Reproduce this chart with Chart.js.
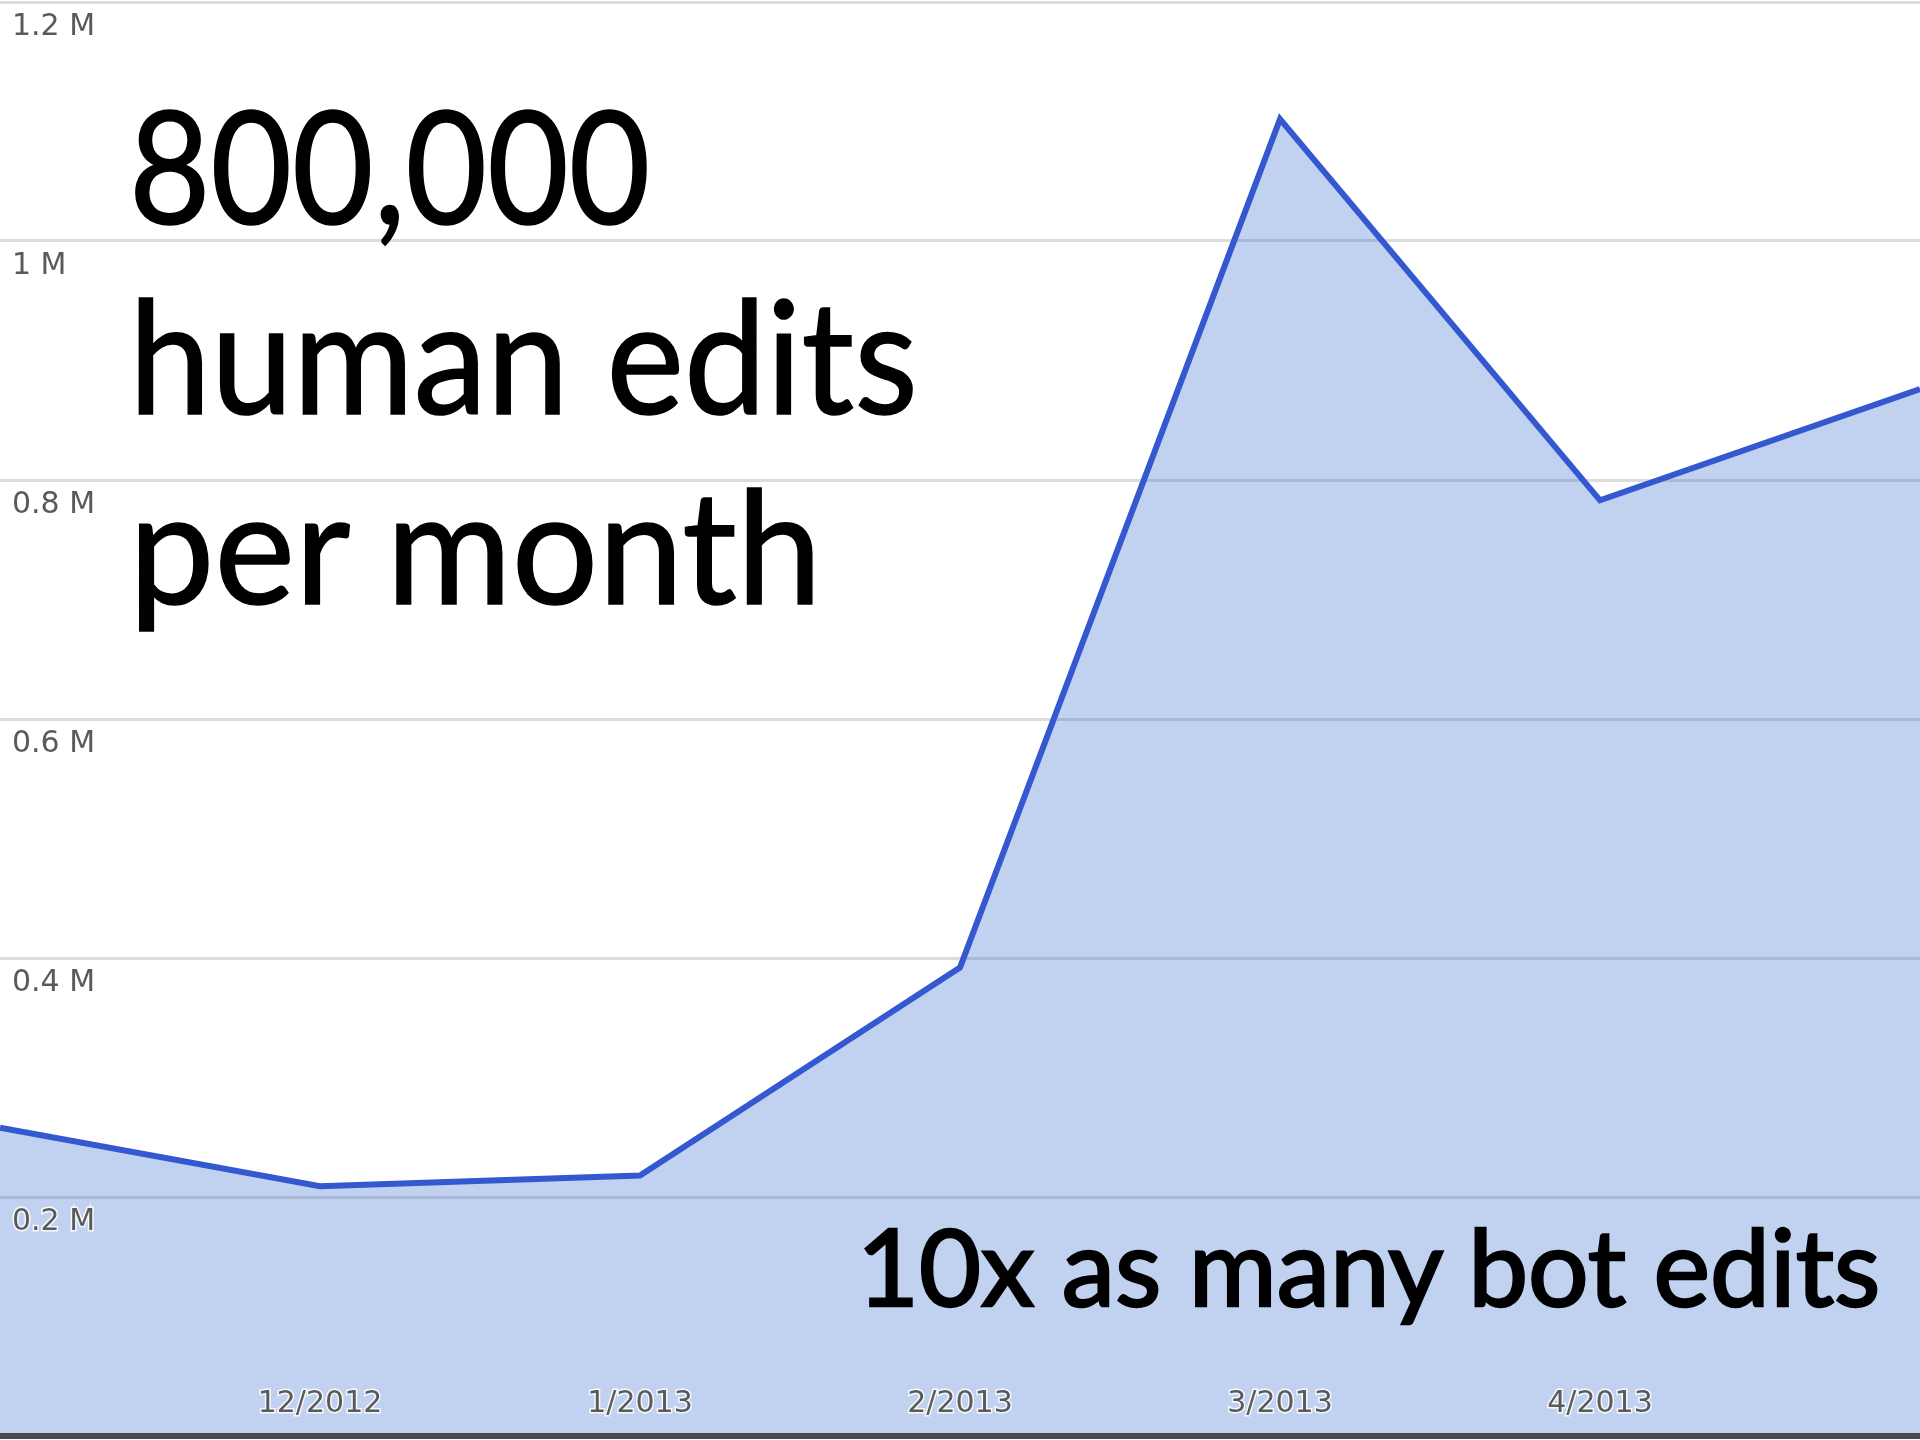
<head>
  <script src="https://cdn.jsdelivr.net/npm/chart.js"></script>
  <style>
    body {
      margin: 0;
      background-color: #ffffff;
    }

    #wrap {
      position: relative;
      width: 1920px;
      height: 1440px;
      overflow: hidden;
    }

    .note {
      position: absolute;
      font-family: Lato, sans-serif;
      color: #000000;
      line-height: 1;
      white-space: nowrap;
      transform-origin: left top;
      -webkit-text-stroke: 1.5px #000000;
    }

    #big { left: 129px; top: 84px; font-size: 158px; transform: scaleX(0.89); }
    #l2 { left: 129px; top: 274px; font-size: 158px; transform: scaleX(0.93); }
    #l3 { left: 129px; top: 464px; font-size: 158px; transform: scaleX(0.965); }
    #bot { left: 857px; top: 1211px; font-size: 107px; transform: scaleX(1.0); -webkit-text-stroke: 2.5px #000000; }
  </style>
</head>
<div id="wrap">
  <canvas id="myChart"></canvas>
  <div class="note" id="big">800,000</div>
  <div class="note" id="l2">human edits</div>
  <div class="note" id="l3">per month</div>
  <div class="note" id="bot">10x as many bot edits</div>
</div>

<script>
  // months on the x axis, first and last are not labelled in the picture
  const months = ['11/2012', '12/2012', '1/2013', '2/2013', '3/2013', '4/2013', '5/2013'];
  const monthLabels = ['', '12/2012', '1/2013', '2/2013', '3/2013', '4/2013', ''];

  // human edits per month
  const humanEdits = [258000, 209000, 218000, 392000, 1102000, 783000, 876000];

  const yTickLabels = ['', '0.2 M', '0.4 M', '0.6 M', '0.8 M', '1 M', '1.2 M'];

  var data = {
    labels: months,
    datasets: [{
      label: 'Human edits',
      data: humanEdits,
      borderColor: '#3358cf',
      backgroundColor: 'rgba(51,102,204,0.3)',
      borderWidth: 6,
      fill: 'origin',
      tension: 0,
      pointRadius: 0
    }]
  };

  // x labels sit inside the plot, just above the bottom axis line
  var monthLabelPlugin = {
    id: 'monthLabels',
    afterDatasetsDraw: function (chart) {
      var ctx = chart.ctx;
      var xScale = chart.scales.x;
      var y = chart.chartArea.bottom - 32;
      ctx.save();
      ctx.font = '30px "DejaVu Sans"';
      ctx.textAlign = 'center';
      ctx.textBaseline = 'middle';
      ctx.lineWidth = 3;
      ctx.strokeStyle = 'rgba(255,255,255,0.85)';
      ctx.fillStyle = '#5a5a5a';
      monthLabels.forEach(function (label, i) {
        if (!label) return;
        var x = xScale.getPixelForValue(i);
        ctx.strokeText(label, x, y);
        ctx.fillText(label, x, y);
      });
      ctx.restore();
    }
  };

  var config = {
    type: 'line',
    data: data,
    plugins: [monthLabelPlugin],
    options: {
      responsive: true,
      maintainAspectRatio: false,
      animation: false,
      layout: {
        padding: { top: 2, bottom: 4, left: 0, right: 0 }
      },
      plugins: {
        legend: { display: false },
        tooltip: { enabled: false }
      },
      scales: {
        x: {
          grid: { display: false, drawTicks: false },
          border: { display: true, color: '#4a4a4a', width: 6, z: 1 },
          ticks: { display: false },
          afterFit: function (scale) {
            scale.height = 0;
            scale.paddingLeft = 0;
            scale.paddingRight = 0;
          }
        },
        y: {
          min: 0,
          max: 1200000,
          grid: { color: '#dcdcdc', lineWidth: 3, drawTicks: false },
          border: { display: false },
          ticks: {
            stepSize: 200000,
            mirror: true,
            padding: 12,
            labelOffset: 25,
            z: 1,
            color: '#5a5a5a',
            textStrokeColor: 'rgba(255,255,255,0.85)',
            textStrokeWidth: 3,
            font: { family: 'DejaVu Sans', size: 30 },
            callback: function (value, index) {
              return yTickLabels[index];
            }
          },
          afterFit: function (scale) {
            scale.width = 0;
            scale.paddingTop = 0;
            scale.paddingBottom = 0;
          }
        }
      }
    }
  };

  myChart = new Chart(
    document.getElementById('myChart'),
    config
  );
</script>
